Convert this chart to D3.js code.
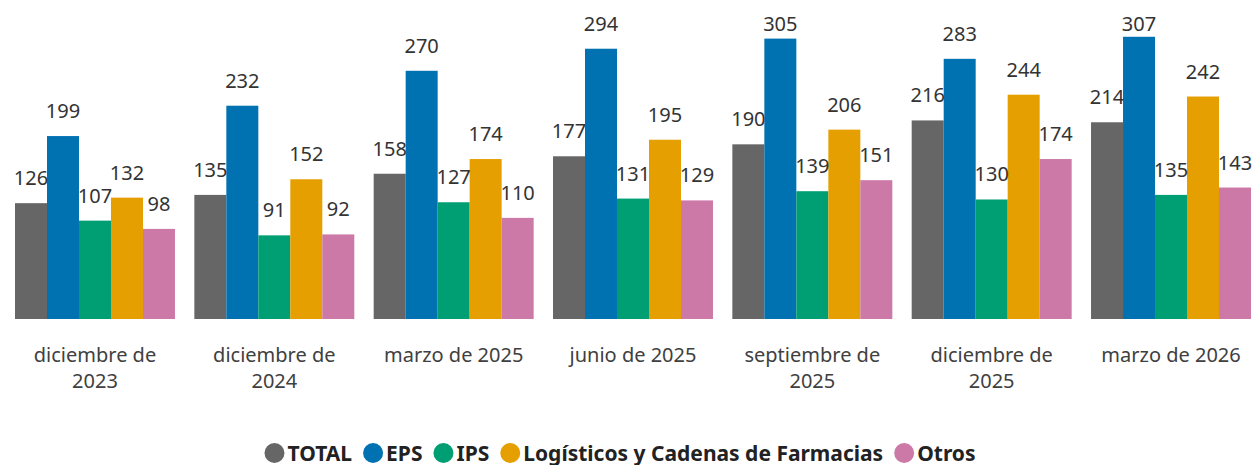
<!DOCTYPE html>
<html>
<head>
<meta charset="utf-8">
<script src="https://cdn.jsdelivr.net/npm/d3@7"></script>
<style>
  body { margin: 0; background: #fff; }
  svg { display: block; font-family: "Noto Sans", "Open Sans", sans-serif; }
</style>
</head>
<body>
<div id="chart"></div>
<script>
// Categories (periods) and series
const periods = ["diciembre de 2023", "diciembre de 2024", "marzo de 2025", "junio de 2025",
                 "septiembre de 2025", "diciembre de 2025", "marzo de 2026"];
const seriesNames = ["TOTAL", "EPS", "IPS", "Logísticos y Cadenas de Farmacias", "Otros"];
const total = [126, 135, 158, 177, 190, 216, 214];
const eps = [199, 232, 270, 294, 305, 283, 307];
const ips = [107, 91, 127, 131, 139, 130, 135];
const logisticos = [132, 152, 174, 195, 206, 244, 242];
const otros = [98, 92, 110, 129, 151, 174, 143];
const colors = ["#666666", "#0072B2", "#009E73", "#E69F00", "#CC79A7"];

const values = [total, eps, ips, logisticos, otros];

const W = 1256, H = 465;
const svg = d3.select("#chart").append("svg")
    .attr("width", W)
    .attr("height", H);

// Scales
const x0 = d3.scaleBand()
    .domain(periods)
    .range([15, 1251])
    .paddingInner(0.108)
    .paddingOuter(0);

const x1 = d3.scaleBand()
    .domain(seriesNames)
    .range([0, x0.bandwidth()])
    .padding(0);

const y = d3.scaleLinear()
    .domain([0, 347])
    .range([319, 0]);

// Bars
const groups = svg.selectAll(".group")
    .data(periods)
    .enter().append("g")
    .attr("class", "group")
    .attr("transform", d => `translate(${x0(d)},0)`);

groups.each(function (p, i) {
    const g = d3.select(this);
    const rows = seriesNames.map((s, k) => ({ s, k, v: values[k][i] }));
    g.selectAll("rect")
        .data(rows)
        .enter().append("rect")
        .attr("x", d => x1(d.s))
        .attr("y", d => y(d.v))
        .attr("width", x1.bandwidth())
        .attr("height", d => y(0) - y(d.v))
        .attr("fill", d => colors[d.k]);
    // value labels sit above the bar, but never above the top edge
    g.selectAll("text.val")
        .data(rows)
        .enter().append("text")
        .attr("class", "val")
        .attr("x", d => x1(d.s) + x1.bandwidth() / 2)
        .attr("y", d => Math.max(y(d.v) - 18, 31))
        .attr("text-anchor", "middle")
        .attr("fill", "#333")
        .style("font-size", "20px")
        .text(d => d.v);
});

// Category axis labels (wrapped)
const xAxis = svg.append("g")
    .attr("class", "x-axis")
    .attr("transform", "translate(0,319)")
    .call(d3.axisBottom(x0).tickSize(0).tickPadding(0));
xAxis.select(".domain").remove();
xAxis.selectAll(".tick text")
    .attr("fill", "#404040")
    .style("font-family", "'Noto Sans', 'Open Sans', sans-serif")
    .style("font-size", "20px")
    .attr("dy", null)
    .attr("y", 43)
    .each(function () { wrap(d3.select(this), 160); });

function wrap(text, width) {
    const words = text.text().split(/\s+/);
    text.text(null);
    let line = [];
    let tspan = text.append("tspan").attr("x", 0).attr("dy", 0);
    words.forEach(w => {
        line.push(w);
        tspan.text(line.join(" "));
        if (tspan.node().getComputedTextLength() > width && line.length > 1) {
            line.pop();
            tspan.text(line.join(" "));
            line = [w];
            tspan = text.append("tspan").attr("x", 0).attr("dy", "1.3em").text(w);
        }
    });
}

// Legend
const legend = svg.append("g").attr("class", "legend");
let lx = 0;
seriesNames.forEach((s, k) => {
    const item = legend.append("g").attr("transform", `translate(${lx},0)`);
    item.append("circle").attr("cx", 10).attr("cy", 0).attr("r", 10).attr("fill", colors[k]);
    const t = item.append("text")
        .attr("x", 23)
        .attr("y", 7.5)
        .attr("fill", "#222")
        .style("font-size", "21px")
        .style("font-weight", "700")
        .text(s);
    lx += 23 + t.node().getComputedTextLength() + 11;
});
legend.attr("transform", `translate(${620 - (lx - 11) / 2},453)`);
</script>
</body>
</html>
